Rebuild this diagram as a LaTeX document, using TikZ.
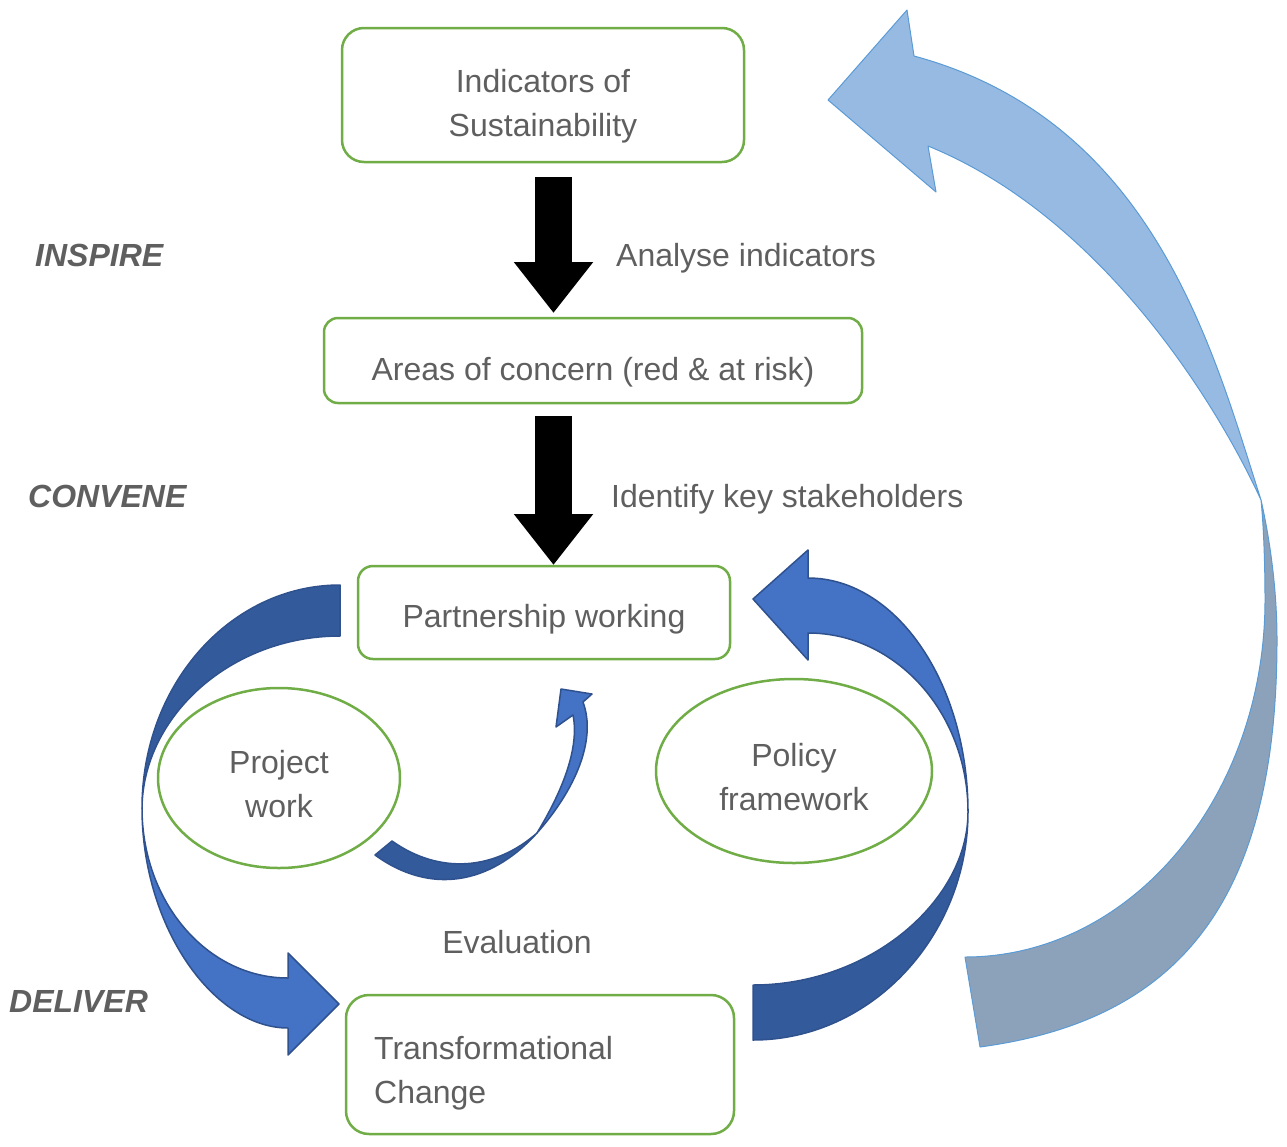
\documentclass[tikz,border=0pt]{standalone}
\usepackage{fontspec}
\setmainfont{Liberation Sans}
\usetikzlibrary{arrows.meta,shapes.geometric}
\definecolor{boxgreen}{HTML}{70AD47}
\definecolor{txtgray}{HTML}{5F5F5F}
\definecolor{backblue}{HTML}{335A9A}
\definecolor{frontblue}{HTML}{4472C4}
\definecolor{edgeblue}{HTML}{2F528F}
\definecolor{paleblue}{HTML}{97BAE3}
\definecolor{grayblue}{HTML}{8CA2BA}
\definecolor{paleedge}{HTML}{5B9BD5}
\begin{document}
\begin{tikzpicture}[x=1pt,y=-1pt,
  box/.style={draw=boxgreen, line width=2.5pt, fill=white, inner sep=0pt, rectangle},
  oval/.style={draw=boxgreen, line width=2.5pt, ellipse, fill=white, inner sep=0pt},
  txt/.style={text=txtgray, font=\fontsize{32}{38}\selectfont, inner sep=0pt, anchor=base},
  stage/.style={text=txtgray, font=\fontsize{32}{38}\selectfont\bfseries\itshape, inner sep=0pt, anchor=base west},
  blockarrow/.style={line width=37pt, -{Triangle[length=51pt,width=76pt]}},
  backpart/.style={fill=backblue, draw=edgeblue, line width=1.5pt, line join=round},
  frontpart/.style={fill=frontblue, draw=edgeblue, line width=1.5pt, line join=round},
  palepart/.style={fill=paleblue, draw=paleedge, line width=1pt, line join=round},
  graypart/.style={fill=grayblue, draw=paleedge, line width=1pt, line join=round}]
\useasboundingbox (0,0) rectangle (1287,1146);

% big feedback arrow (right)
\draw[graypart] (1261,500) .. controls (1270,540) and (1277,590) .. (1277,640)
   .. controls (1277,900) and (1180,1020) .. (980,1047) -- (965,957)
   .. controls (1131,957) and (1265,797) .. (1265,600)
   .. controls (1265,570) and (1264,530) .. (1261,500) -- cycle;
\draw[palepart] (914,56) .. controls (1154,121) and (1213,350) .. (1261,500)
   .. controls (1215,400) and (1100,216) .. (928,146) -- (936,192) -- (828,100) -- (907,10) -- cycle;

% left curved arrow
\draw[backpart] (340,585) .. controls (231,585) and (142,684) .. (142,808)
   .. controls (143,716) and (231,636) .. (340,636) -- cycle;
\draw[frontpart] (142,808) .. controls (142,929) and (215,1028) .. (288,1028)
   -- (288,1055) -- (339,1004) -- (288,953) -- (288,978)
   .. controls (207,978) and (142,902) .. (142,808) -- cycle;

% right curved arrow
\draw[backpart] (753,1040) .. controls (872,1040) and (968,935) .. (968,812)
   .. controls (968,900) and (871,985) .. (753,985) -- cycle;
\draw[frontpart] (968,812) .. controls (968,683) and (896,578) .. (808,578)
   -- (808,550) -- (753,599) -- (808,660) -- (808,633)
   .. controls (896,633) and (968,713) .. (968,812) -- cycle;

% small inner arrow
\draw[backpart] (375,855) .. controls (430,895) and (490,885) .. (537,833)
   .. controls (495,870) and (440,875) .. (392,841) -- cycle;
\draw[frontpart] (537,833) .. controls (575,790) and (597,740) .. (583,702)
   -- (592,694) -- (561,689) -- (556,727) -- (573,715)
   .. controls (580,750) and (560,795) .. (537,833) -- cycle;

% boxes
\node[box, rounded corners=22pt, minimum width=402pt, minimum height=134pt] (b1) at (543,95) {};
\node[box, rounded corners=14pt, minimum width=538pt, minimum height=85pt] (b2) at (593,360.5) {};
\node[box, rounded corners=15pt, minimum width=372pt, minimum height=93pt] (b3) at (544,612.5) {};
\node[box, rounded corners=23pt, minimum width=388pt, minimum height=139pt] (b4) at (540,1064.5) {};
\node[oval, minimum width=242pt, minimum height=180pt] (e1) at (279,778) {};
\node[oval, minimum width=276pt, minimum height=184pt] (e2) at (794,771) {};

% black block arrows
\coordinate (a1s) at (553.5,177);
\coordinate (a1e) at (553.5,313);
\coordinate (a2s) at (553.5,416);
\coordinate (a2e) at (553.5,565);
\draw[blockarrow] (a1s) -- (a1e);
\draw[blockarrow] (a2s) -- (a2e);

% texts
\node[txt] (t1a) at (543,92) {Indicators of};
\node[txt] (t1b) at (543,136) {Sustainability};
\node[txt] (t2) at (593,380) {Areas of concern (red \& at risk)};
\node[txt] (t3) at (544,627) {Partnership working};
\node[txt] (t5a) at (279,773) {Project};
\node[txt] (t5b) at (279,817) {work};
\node[txt] (t6a) at (794,766) {Policy};
\node[txt] (t6b) at (794,810) {framework};
\node[txt] (t7) at (517,953) {Evaluation};
\node[txt, anchor=base west] (t4a) at (374,1059) {Transformational};
\node[txt, anchor=base west] (t4b) at (374,1103) {Change};
\node[txt, anchor=base west] (l1) at (616,266) {Analyse indicators};
\node[txt, anchor=base west] (l2) at (611,507) {Identify key stakeholders};
\node[stage] (s1) at (35,266) {INSPIRE};
\node[stage] (s2) at (28,507) {CONVENE};
\node[stage] (s3) at (9,1012) {DELIVER};
\end{tikzpicture}
\end{document}
